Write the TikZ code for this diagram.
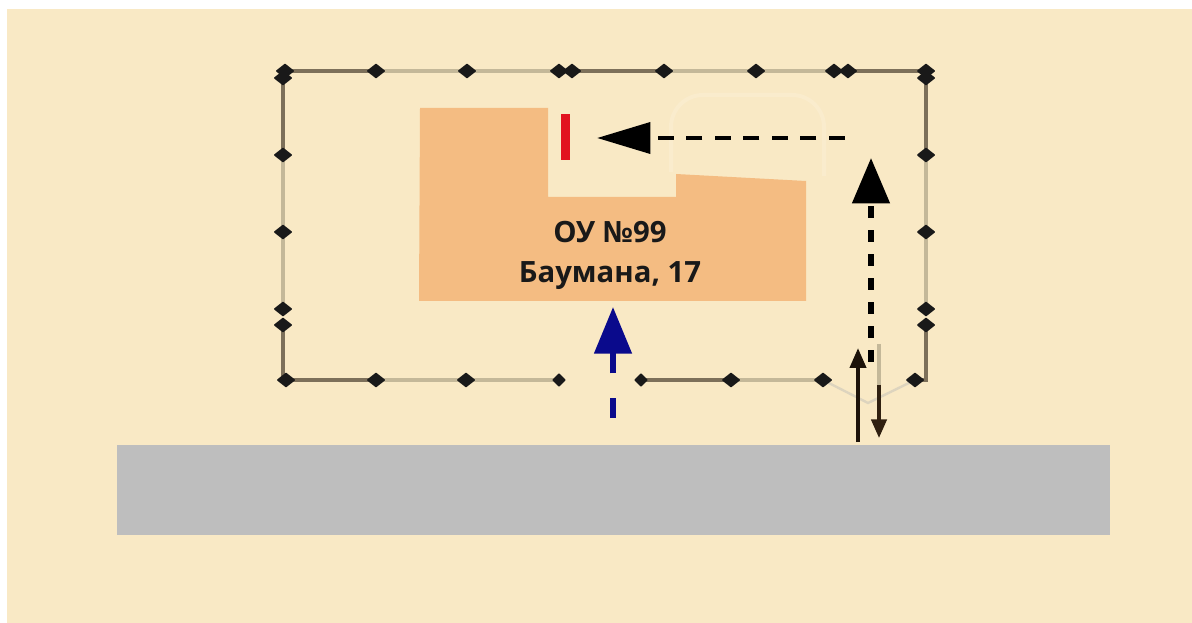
\documentclass[tikz,border=0pt]{standalone}
\usepackage{fontspec}
\setmainfont{Open Sans}
\usetikzlibrary{arrows.meta,shapes.geometric}
\definecolor{bgcream}{HTML}{F9E9C5}
\definecolor{faintline}{HTML}{FAECCD}
\definecolor{building}{HTML}{F4BC82}
\definecolor{road}{HTML}{BEBEBE}
\definecolor{fencedark}{HTML}{7D705A}
\definecolor{fencelight}{HTML}{C4B899}
\definecolor{gateline}{HTML}{DDD4BE}
\definecolor{navyarrow}{HTML}{0A0A8C}
\definecolor{redbar}{HTML}{E2131F}
\tikzset{
  post/.style={diamond,fill=black!90,draw=black!90,line width=1.4pt,line join=round,inner sep=0pt,minimum width=12.5pt,minimum height=10pt},
  smallpost/.style={post,minimum width=9pt,minimum height=9pt},
  fdark/.style={draw=fencedark,line width=3.4pt},
  flight/.style={draw=fencelight,line width=3.6pt},
  bigblack/.style={-{Triangle[length=40pt,width=23pt]},line width=3.6pt,black,dash pattern=on 12pt off 9.4pt},
  tallblack/.style={-{Triangle[length=34pt,width=27.5pt]},line width=4.2pt,black,dash pattern=on 9pt off 9pt},
  thinup/.style={-{Triangle[length=15pt,width=12pt]},line width=3pt,black!85!brown},
  thindown/.style={-{Triangle[length=14pt,width=11.5pt]},line width=2.6pt,black!75!brown},
  bluearrow/.style={-{Triangle[length=35pt,width=27.5pt]},line width=4.4pt,navyarrow,dash pattern=on 15pt off 18.5pt},
  label/.style={font=\fontsize{22}{30}\selectfont\bfseries,text=black!90,align=center,inner sep=0pt}
}
\begin{document}
\begin{tikzpicture}[x=0.75pt,y=-0.75pt]
\useasboundingbox (0,0) rectangle (1192,623);
\fill[white] (0,0) rectangle (1192,623);
\fill[bgcream] (7,9.5) rectangle (1192,623);
% faint outline
\draw[faintline,line width=3pt,rounded corners=24pt] (671,172) -- (671,95) -- (824,95) -- (824,176);
% road
\fill[road] (117,445) rectangle (1110,535);
% building
\fill[building] (420,108) -- (548,108) -- (548,197) -- (676,197) -- (676,174) -- (806,181) -- (806,301) -- (419,301) -- cycle;
\node[label] (school) at (610,255) {ОУ №99\\Баумана, 17};
% red bar
\fill[redbar] (561,114) rectangle (570,160);
% posts
\foreach \n/\x in {t1/285,t2/376,t3/467,t4/559,t5/572,t6/664,t7/756,t8/834,t9/848,t10/926}{\coordinate (\n) at (\x,71);}
\foreach \n/\y in {l1/78,l2/155,l3/232,l4/309,l5/325}{\coordinate (\n) at (283,\y);}
\coordinate (l6) at (283,380);
\foreach \n/\y in {r1/78,r2/155,r3/232,r4/309,r5/325}{\coordinate (\n) at (926,\y);}
\coordinate (r6) at (926,380);
\foreach \n/\x in {b1/286,b2/376,b3/466,b4/559,b5/641,b6/731,b7/823,b8/915}{\coordinate (\n) at (\x,380);}
\coordinate (g) at (868,403);
% fence
\draw[fdark] (t1) -- (t2);
\draw[flight] (t2) -- (t4);
\draw[fdark] (t4) -- (t6);
\draw[flight] (t6) -- (t8);
\draw[fdark] (t9) -- (t10);
\draw[fdark] (l1) -- (l2);
\draw[flight] (l2) -- (l4);
\draw[fdark] (l5) -- (l6) -- (b1) -- (b2);
\draw[flight] (b2) -- (b4);
\draw[fdark] (b5) -- (b6);
\draw[flight] (b6) -- (b7);
\draw[fdark] (r1) -- (r2);
\draw[flight] (r2) -- (r4);
\draw[fdark] (r5) -- (r6) -- (b8);
\draw[gateline,line width=1.8pt] (b7) -- (g) -- (b8);
\foreach \c in {t1,t2,t3,t4,t5,t6,t7,t8,t9,t10,l1,l2,l3,l4,l5,b1,b2,b3,b6,b7,b8,r1,r2,r3,r4,r5}{\node[post] at (\c) {};}
\node[smallpost] at (b4) {};
\node[smallpost] at (b5) {};
% arrows
\coordinate (hs) at (845,138); \coordinate (he) at (597,138);
\draw[bigblack] (hs) -- (he);
\coordinate (vs) at (871,362); \coordinate (ve) at (871,158);
\draw[tallblack] (vs) -- (ve);
\coordinate (us) at (858,442); \coordinate (ue) at (858,348);
\draw[thinup] (us) -- (ue);
\coordinate (ds) at (879,344); \coordinate (dm) at (879,385); \coordinate (de) at (879,438);
\draw[draw=fencelight,line width=2.8pt] (ds) -- (dm);
\draw[thindown] (dm) -- (de);
\coordinate (bs) at (613,418); \coordinate (be) at (613,307);
\draw[bluearrow] (bs) -- (be);
\end{tikzpicture}
\end{document}
